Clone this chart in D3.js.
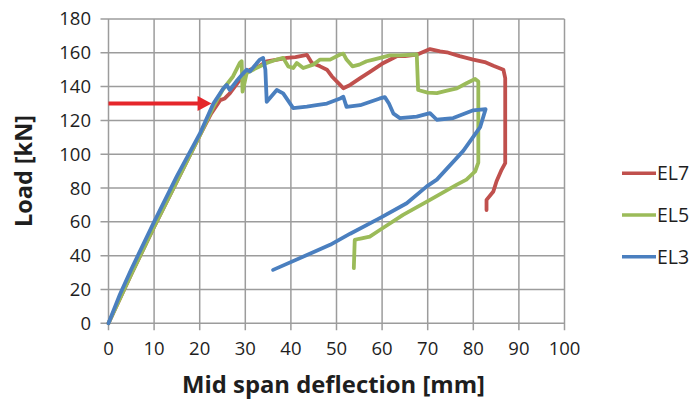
<!DOCTYPE html>
<html lang="en">
<head>
  <meta charset="UTF-8">
  <title>Load vs mid span deflection</title>
  <script src="https://d3js.org/d3.v7.min.js"></script>
  <style>
    html, body { margin: 0; padding: 0; background: #fff; }
    svg { display: block; font-family: "Open Sans", "Noto Sans", sans-serif; }
    .grid line { stroke: #9c9c9c; stroke-width: 1.5px; }
    .tick-label { font-size: 18.5px; fill: #1e1e1e; }
    .title { font-weight: bold; fill: #1e1e1e; }
    .legend text { font-size: 19.5px; fill: #1e1e1e; }
    .series { fill: none; stroke-width: 3.8px; stroke-linejoin: round; stroke-linecap: round; }
  </style>
</head>
<body>
  <svg width="692" height="401"></svg>

  <script>
    // axis ticks
    const xTicks = [0, 10, 20, 30, 40, 50, 60, 70, 80, 90, 100];
    const yTicks = [0, 20, 40, 60, 80, 100, 120, 140, 160, 180];

    // series, [deflection mm, load kN]
    const el7 = [
      [0, 0], [5, 29], [10, 57], [15, 84], [20, 111], [22.5, 124], [24.5, 132], [25.5, 133],
      [26.6, 136], [28.8, 144], [31, 150], [33, 152], [34.7, 155], [37, 156], [39.1, 157],
      [41, 157.5], [43.5, 158.8], [44.6, 154], [46.4, 152], [47.9, 150], [49, 146], [50.8, 141],
      [51.5, 139], [53, 141], [55.2, 145], [57.5, 149], [60.3, 154], [63.2, 158], [65, 158],
      [67.6, 158.9], [69, 160.5], [70.5, 162.2], [72.7, 160.8], [74.2, 160.3], [77, 158],
      [80, 156], [82.5, 154.5], [84.4, 152.3], [86.6, 150], [87, 145], [87, 114], [87, 94.7],
      [86.2, 90.8], [85.1, 84], [84.4, 78], [82.9, 73], [82.9, 67]
    ];
    const el5 = [
      [0, 0], [5, 29], [10, 57], [15, 84], [20, 111], [23, 128], [25, 138], [27.3, 146],
      [28.8, 154], [29.2, 155], [29.4, 137], [30.3, 148], [31.7, 150], [33.2, 152], [34.7, 154],
      [36.9, 156], [38.3, 157], [39.4, 152], [40.5, 151], [41.3, 154], [42.7, 151], [44.9, 153],
      [46.4, 156], [48.6, 156], [50.8, 159], [51.5, 159.5], [52.2, 156], [53.5, 152], [55, 153],
      [56.6, 155], [58.1, 156], [61.7, 158.5], [64, 158.5], [67.6, 159], [67.9, 138], [70, 136.5],
      [72, 136.2], [74, 137.5], [76.4, 139], [78.5, 142], [80.4, 144.5], [81.1, 143], [81.1, 95],
      [80.4, 89.8], [78.5, 85], [76.4, 82], [70.5, 73], [64.6, 64.1], [59.5, 55.2], [57.3, 51.3],
      [55, 50], [54, 49.3], [53.8, 32.6]
    ];
    const el3 = [
      [0, 0], [2.5, 17], [5, 32], [10, 60], [15, 87], [20, 112], [23, 130], [25.2, 139],
      [25.9, 141], [26.6, 138], [28, 143], [29.6, 148], [30.3, 150], [31, 149], [33.2, 156],
      [33.9, 157], [34.4, 150], [34.7, 131], [36.9, 138], [38.3, 136], [40.5, 127.3],
      [43.5, 128.2], [45.6, 129], [47.9, 130], [50.8, 133], [51.5, 134], [52.2, 128], [55.2, 129],
      [59.5, 133], [60.6, 133.8], [61.5, 130], [62.5, 124], [63.9, 121.4], [67.6, 122.3],
      [70.5, 124.3], [72, 120.4], [75.6, 121.4], [80, 126], [82.7, 126.7], [81.5, 116],
      [77.8, 102], [72, 85], [69.8, 81], [65.4, 71], [59.5, 62.2], [53, 53], [48.6, 46.4],
      [36.1, 31.6]
    ];

    const seriesNames = ["EL7", "EL5", "EL3"];
    const seriesColors = ["#c0504d", "#9bbb59", "#4a7fbf"];
    const seriesData = [el7, el5, el3];

    // red arrow pointing at 130 kN
    const arrowLoad = 130;
    const arrowFrom = 0;
    const arrowTo = 22.6;

    const svg = d3.select("svg");

    const x = d3.scaleLinear().domain([0, 100]).range([108.5, 564.5]);
    const y = d3.scaleLinear().domain([0, 180]).range([323.3, 19]);

    // grid with outside tick marks, Excel style
    const grid = svg.append("g").attr("class", "grid");
    grid.selectAll("line.v")
      .data(xTicks)
      .join("line")
      .attr("class", "v")
      .attr("x1", d => x(d)).attr("x2", d => x(d))
      .attr("y1", y(180)).attr("y2", y(0) + 7);
    grid.selectAll("line.h")
      .data(yTicks)
      .join("line")
      .attr("class", "h")
      .attr("x1", x(0) - 8).attr("x2", x(100))
      .attr("y1", d => y(d)).attr("y2", d => y(d));

    svg.append("g")
      .selectAll("text")
      .data(yTicks)
      .join("text")
      .attr("class", "tick-label")
      .attr("x", 91)
      .attr("y", d => y(d))
      .attr("dy", "0.35em")
      .attr("text-anchor", "end")
      .text(d => d);

    svg.append("g")
      .selectAll("text")
      .data(xTicks)
      .join("text")
      .attr("class", "tick-label")
      .attr("x", d => x(d))
      .attr("y", 355)
      .attr("text-anchor", "middle")
      .text(d => d);

    // axis titles, sized to the widths measured on the reference
    function fit(sel, width) {
      let fs = 20;
      sel.style("font-size", fs + "px");
      const w = sel.node().getComputedTextLength();
      sel.style("font-size", (fs * width / w) + "px");
    }

    const xTitle = svg.append("text")
      .attr("class", "title")
      .attr("x", 333.5)
      .attr("y", 393)
      .attr("text-anchor", "middle")
      .text("Mid span deflection [mm]");
    fit(xTitle, 303);

    const yTitle = svg.append("text")
      .attr("class", "title")
      .attr("transform", "translate(32,171) rotate(-90)")
      .attr("text-anchor", "middle")
      .text("Load [kN]");
    fit(yTitle, 112);

    // series
    const line = d3.line().x(d => x(d[0])).y(d => y(d[1]));
    svg.append("g")
      .selectAll("path")
      .data(seriesData)
      .join("path")
      .attr("class", "series")
      .attr("stroke", (d, i) => seriesColors[i])
      .attr("d", line);

    // arrow
    const arrowColor = "#e5262b";
    svg.append("line")
      .attr("x1", x(arrowFrom)).attr("x2", x(arrowTo) - 12)
      .attr("y1", y(arrowLoad)).attr("y2", y(arrowLoad))
      .attr("stroke", arrowColor)
      .attr("stroke-width", 4);
    svg.append("path")
      .attr("fill", arrowColor)
      .attr("d", `M${x(arrowTo)},${y(arrowLoad)}L${x(arrowTo) - 14},${y(arrowLoad) - 7.5}L${x(arrowTo) - 14},${y(arrowLoad) + 7.5}Z`);

    // legend
    const legend = svg.append("g").attr("class", "legend");
    const legendY = [173.3, 215, 256.7];
    seriesNames.forEach((name, i) => {
      legend.append("line")
        .attr("x1", 622).attr("x2", 656)
        .attr("y1", legendY[i]).attr("y2", legendY[i])
        .attr("stroke", seriesColors[i])
        .attr("stroke-width", 3.6);
      legend.append("text")
        .attr("x", 657)
        .attr("y", legendY[i])
        .attr("dy", "0.36em")
        .text(name);
    });
  </script>
</body>
</html>
